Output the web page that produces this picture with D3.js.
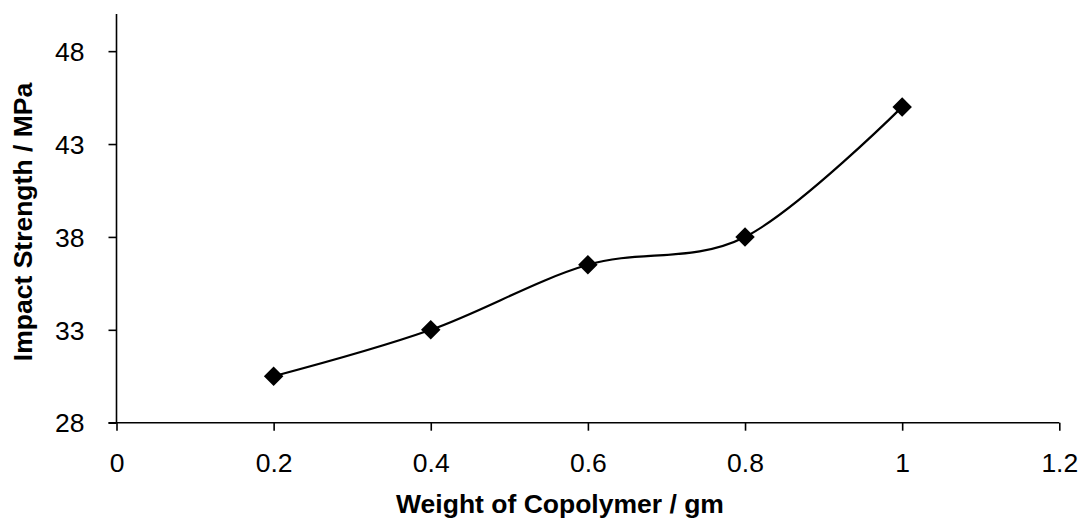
<!DOCTYPE html>
<html><head><meta charset="utf-8">
<script src="https://cdn.jsdelivr.net/npm/d3@7"></script>
<style>html,body{margin:0;padding:0;background:#fff;}svg{display:block;}</style>
</head><body><svg id="c" width="1081" height="520"></svg>
<script>
const xValues = [0.2, 0.4, 0.6, 0.8, 1.0];
const impactStrength = [30.5, 33.0, 36.5, 38.0, 45.0];
const xTicks = [0, 0.2, 0.4, 0.6, 0.8, 1, 1.2];
const yTicks = [28, 33, 38, 43, 48];
const xTitle = "Weight of Copolymer / gm";
const yTitle = "Impact Strength / MPa";

const svg = d3.select("#c");
const x = d3.scaleLinear().domain([0, 1.2]).range([116.5, 1059.3]);
const y = d3.scaleLinear().domain([28, 50]).range([422.7, 14]);
const font = "'Liberation Sans', Arial, sans-serif";

const xAxis = svg.append("g").attr("transform", `translate(0,${y(28)})`)
  .call(d3.axisBottom(x).tickValues(xTicks).tickFormat(d => String(d)).tickSize(8).tickSizeOuter(0));
const yAxis = svg.append("g").attr("transform", `translate(${x(0)},0)`)
  .call(d3.axisLeft(y).tickValues(yTicks).tickFormat(d => String(d)).tickSize(8).tickPadding(24).tickSizeOuter(0));
[xAxis, yAxis].forEach(g => {
  g.select(".domain").attr("stroke", "#000").attr("stroke-width", 1.6);
  g.selectAll(".tick line").attr("stroke", "#000").attr("stroke-width", 1.6);
  g.selectAll(".tick text").attr("fill", "#000").style("font-family", font).style("font-size", "26.5px");
});
xAxis.selectAll(".tick text").attr("y", 49).attr("dy", 0);
yAxis.selectAll(".tick text").attr("dy", "0.35em");
yAxis.select(".domain").attr("d", `M0,${y(50)}V${y(28)}`);
xAxis.select(".domain").attr("d", `M${x(0) - 8},0H${x(1.2)}`);

const line = d3.line().x((d, i) => x(xValues[i])).y(d => y(d)).curve(d3.curveCardinal.tension(0));
svg.append("path").datum(impactStrength).attr("d", line)
  .attr("fill", "none").attr("stroke", "#000").attr("stroke-width", 2.2);

const sym = d3.symbol().type(d3.symbolSquare).size(190);
svg.selectAll(".pt").data(impactStrength).enter().append("path")
  .attr("d", sym)
  .attr("transform", (d, i) => `translate(${x(xValues[i])},${y(d)}) rotate(45)`)
  .attr("fill", "#000");

svg.append("text").attr("x", 560).attr("y", 513).attr("text-anchor", "middle")
  .style("font-family", font).style("font-size", "26.5px").style("font-weight", "bold").text(xTitle);
svg.append("text").attr("transform", `translate(32,222) rotate(-90)`).attr("text-anchor", "middle")
  .style("font-family", font).style("font-size", "26.5px").style("font-weight", "bold").text(yTitle);
</script></body></html>
